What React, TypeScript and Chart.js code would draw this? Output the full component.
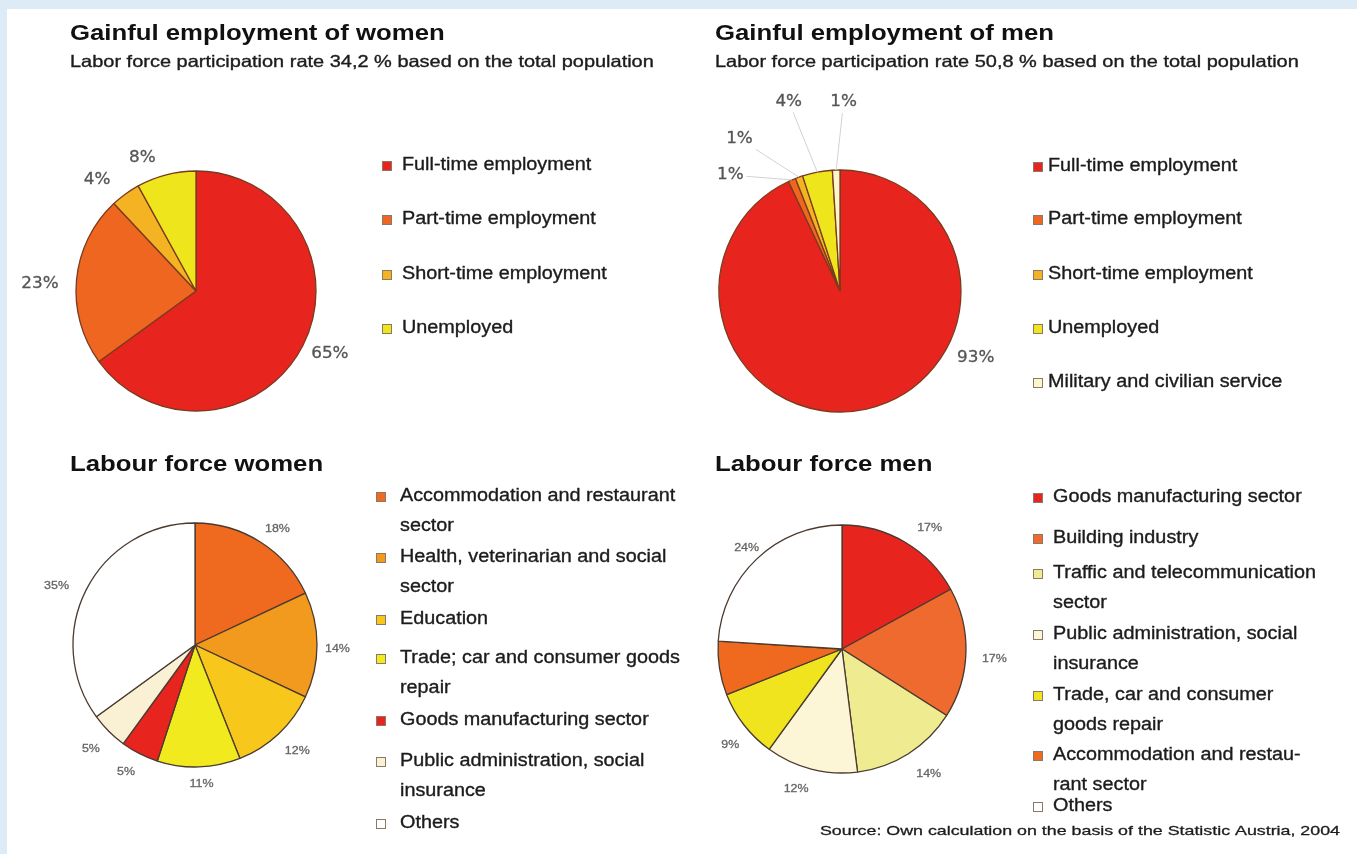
import React, { useEffect, useRef } from "react";
import { Chart, registerables } from "chart.js";

Chart.register(...registerables);

const PAGE_W = 1357;
const PAGE_H = 854;

// ---------------- Data ----------------
const womenEmploymentTitle = "Gainful employment of women";
const womenEmploymentSubtitle = "Labor force participation rate 34,2 % based on the total population";
const womenEmploymentCategories = [
  "Full-time employment",
  "Part-time employment",
  "Short-time employment",
  "Unemployed",
];
const womenEmploymentValues = [65, 23, 4, 8];

const menEmploymentTitle = "Gainful employment of men";
const menEmploymentSubtitle = "Labor force participation rate 50,8 % based on the total population";
const menEmploymentCategories = [
  "Full-time employment",
  "Part-time employment",
  "Short-time employment",
  "Unemployed",
  "Military and civilian service",
];
const menEmploymentValues = [93, 1, 1, 4, 1];

const womenLabourTitle = "Labour force women";
const womenLabourCategories = [
  "Accommodation and restaurant\nsector",
  "Health, veterinarian and social\nsector",
  "Education",
  "Trade; car and consumer goods\nrepair",
  "Goods manufacturing sector",
  "Public administration, social\ninsurance",
  "Others",
];
const womenLabourValues = [18, 14, 12, 11, 5, 5, 35];

const menLabourTitle = "Labour force men";
const menLabourCategories = [
  "Goods manufacturing sector",
  "Building industry",
  "Traffic and telecommunication\nsector",
  "Public administration, social\ninsurance",
  "Trade, car and consumer\ngoods repair",
  "Accommodation and restau-\nrant sector",
  "Others",
];
const menLabourValues = [17, 17, 14, 12, 9, 7, 24];

const sourceNote = "Source: Own calculation on the basis of the Statistic Austria, 2004";

// ---------------- Styles ----------------
const RED = "#e8241f";
const ORANGE = "#ef6620";
const GOLD = "#f3b322";
const YELLOW = "#eee51d";
const CREAM = "#fbf6cc";

const womenEmploymentColors = [RED, ORANGE, GOLD, YELLOW];
const menEmploymentColors = [RED, ORANGE, GOLD, YELLOW, CREAM];
const womenLabourColors = ["#ef6a1f", "#f29a1e", "#f8c71c", "#f1ea1e", RED, "#faf0d4", "#ffffff"];
const menLabourColors = [RED, "#ef6a2e", "#efeb90", "#fcf6d6", "#efe41e", "#ef6a1f", "#ffffff"];

const SANS = '"Liberation Sans", Arial, sans-serif';
const DEJAVU = '"DejaVu Sans", sans-serif';

type TextSpec = {
  text: string;
  x: number;
  y: number;
  font: string;
  sx: number;
  color: string;
  align?: "left" | "center" | "right";
  stroke?: number;
};

type Panel = {
  categories: string[];
  values: number[];
  colors: string[];
  cx: number;
  cy: number;
  r: number;
  borderColor: string;
  borderWidth: number;
  texts: TextSpec[];
  legend: {
    markerX: number;
    textX: number;
    itemY: number[];
    lineH: number;
    font: string;
    sx: number;
    size: number;
  };
  label: { font: string; sx: number; color: string; gap: number; h: number };
  labelNudge?: [number, number][];
  labelHidden?: boolean[];
  leader?: boolean[];
};

function drawText(
  ctx: CanvasRenderingContext2D,
  text: string,
  x: number,
  y: number,
  font: string,
  color: string,
  align: "left" | "center" | "right",
  sx: number,
  baseline: CanvasTextBaseline = "alphabetic",
  stroke = 0
) {
  ctx.save();
  ctx.font = font;
  ctx.fillStyle = color;
  ctx.textBaseline = baseline;
  ctx.textAlign = "left";
  const w = ctx.measureText(text).width * sx;
  const x0 = align === "left" ? x : align === "center" ? x - w / 2 : x - w;
  ctx.translate(x0, y);
  ctx.scale(sx, 1);
  ctx.fillText(text, 0, 0);
  if (stroke > 0) {
    ctx.strokeStyle = color;
    ctx.lineWidth = stroke;
    ctx.lineJoin = "round";
    ctx.strokeText(text, 0, 0);
  }
  ctx.restore();
}

function makeDecor(p: Panel) {
  return {
    id: "decor",
    afterDatasetsDraw(chart: any) {
      const ctx: CanvasRenderingContext2D = chart.ctx;
      // headings
      p.texts.forEach((t) =>
        drawText(ctx, t.text, t.x, t.y, t.font, t.color, t.align || "left", t.sx, "alphabetic", t.stroke || 0)
      );

      // slice labels
      const meta = chart.getDatasetMeta(0);
      meta.data.forEach((arc: any, i: number) => {
        if (p.labelHidden && p.labelHidden[i]) return;
        const { x, y, startAngle, endAngle, outerRadius } = arc.getProps(
          ["x", "y", "startAngle", "endAngle", "outerRadius"],
          true
        );
        const a = (startAngle + endAngle) / 2;
        const text = `${p.values[i]}%`;
        ctx.save();
        ctx.font = p.label.font;
        const w = ctx.measureText(text).width * p.label.sx;
        ctx.restore();
        const h = p.label.h;
        const R = outerRadius + p.label.gap;
        let lx = x + Math.cos(a) * R + (Math.cos(a) * w) / 2;
        let ly = y + Math.sin(a) * R + (Math.sin(a) * h) / 2;
        const n = p.labelNudge && p.labelNudge[i];
        if (n) {
          lx += n[0];
          ly += n[1];
        }
        if (p.leader && p.leader[i]) {
          const ax = x + Math.cos(a) * outerRadius;
          const ay = y + Math.sin(a) * outerRadius;
          const vx = ax - lx;
          const vy = ay - ly;
          const t = Math.min(
            Math.abs(vx) > 0.01 ? (w / 2 + 3) / Math.abs(vx) : 99,
            Math.abs(vy) > 0.01 ? (h / 2 + 4) / Math.abs(vy) : 99
          );
          ctx.save();
          ctx.strokeStyle = "#d2d2d2";
          ctx.lineWidth = 1;
          ctx.beginPath();
          ctx.moveTo(ax, ay);
          ctx.lineTo(lx + vx * t, ly + vy * t);
          ctx.stroke();
          ctx.restore();
        }
        drawText(ctx, text, lx, ly, p.label.font, p.label.color, "center", p.label.sx, "middle", 0.3);
      });

      // legend
      const L = p.legend;
      p.categories.forEach((cat, i) => {
        const lines = cat.split("\n");
        const y0 = L.itemY[i];
        ctx.save();
        ctx.fillStyle = p.colors[i];
        ctx.fillRect(L.markerX, y0 - L.size / 2 + 1, L.size, L.size);
        ctx.strokeStyle = "#8a7868";
        ctx.lineWidth = 1;
        ctx.strokeRect(L.markerX + 0.5, y0 - L.size / 2 + 1.5, L.size - 1, L.size - 1);
        ctx.restore();
        lines.forEach((ln, j) =>
          drawText(ctx, ln, L.textX, y0 + j * L.lineH, L.font, "#1c1c1c", "left", L.sx, "middle", 0.35)
        );
      });
    },
  };
}

const TITLE_FONT = `bold 22px ${SANS}`;
const SUB_FONT = `16.5px ${SANS}`;
const LEGEND_FONT = `18px ${SANS}`;
const LEGEND_SX = 1.1;

const panels: Panel[] = [
  {
    categories: womenEmploymentCategories,
    values: womenEmploymentValues,
    colors: womenEmploymentColors,
    cx: 196,
    cy: 291,
    r: 120,
    borderColor: "#7a3a1e",
    borderWidth: 1.3,
    texts: [
      { text: womenEmploymentTitle, x: 70, y: 40, font: TITLE_FONT, sx: 1.17, color: "#111" },
      { text: womenEmploymentSubtitle, x: 70, y: 67, font: SUB_FONT, sx: 1.21, color: "#1c1c1c", stroke: 0.35 },
    ],
    legend: { markerX: 382, textX: 402, itemY: [165, 219, 274, 328], lineH: 0, font: LEGEND_FONT, sx: LEGEND_SX, size: 10 },
    label: { font: `16px ${DEJAVU}`, sx: 1.05, color: "#555", gap: 6, h: 14 },
    labelNudge: [
      [5, 2],
      [-12, 5],
      [-17, -4],
      [-19, -4],
    ],
  },
  {
    categories: menEmploymentCategories,
    values: menEmploymentValues,
    colors: menEmploymentColors,
    cx: 840,
    cy: 291,
    r: 121,
    borderColor: "#7a3a1e",
    borderWidth: 1.3,
    texts: [
      { text: menEmploymentTitle, x: 715, y: 40, font: TITLE_FONT, sx: 1.17, color: "#111" },
      { text: menEmploymentSubtitle, x: 715, y: 67, font: SUB_FONT, sx: 1.21, color: "#1c1c1c", stroke: 0.35 },
    ],
    legend: { markerX: 1033, textX: 1048, itemY: [166, 219, 274, 328, 382], lineH: 0, font: LEGEND_FONT, sx: LEGEND_SX, size: 10 },
    label: { font: `16px ${DEJAVU}`, sx: 1.05, color: "#555", gap: 6, h: 14 },
    labelNudge: [
      [104, -64],
      [-54, 7],
      [-53, -26],
      [-25, -58],
      [8, -55],
    ],
    leader: [false, true, true, true, true],
  },
  {
    categories: womenLabourCategories,
    values: womenLabourValues,
    colors: womenLabourColors,
    cx: 195,
    cy: 645,
    r: 122,
    borderColor: "#4a3a30",
    borderWidth: 1.3,
    texts: [{ text: womenLabourTitle, x: 70, y: 471, font: TITLE_FONT, sx: 1.17, color: "#111" }],
    legend: {
      markerX: 376,
      textX: 400,
      itemY: [496, 557, 619, 658, 720, 761, 823],
      lineH: 30,
      font: LEGEND_FONT,
      sx: LEGEND_SX,
      size: 10,
    },
    label: { font: `11px ${SANS}`, sx: 1.13, color: "#666", gap: 12, h: 10 },
    labelNudge: [
      [4, 1],
      [-4, 4],
      [2, 5],
      [2, 0],
      [-4, 3],
      [-3, 6],
      [-8, 4],
    ],
  },
  {
    categories: menLabourCategories,
    values: menLabourValues,
    colors: menLabourColors,
    cx: 842,
    cy: 649,
    r: 124,
    borderColor: "#4a3a30",
    borderWidth: 1.3,
    texts: [
      { text: menLabourTitle, x: 715, y: 471, font: TITLE_FONT, sx: 1.17, color: "#111" },
      { text: sourceNote, x: 1340, y: 835, font: `13.5px ${SANS}`, sx: 1.32, color: "#1c1c1c", align: "right", stroke: 0.3 },
    ],
    legend: {
      markerX: 1033,
      textX: 1053,
      itemY: [497, 538, 573, 634, 695, 755, 806],
      lineH: 30,
      font: LEGEND_FONT,
      sx: LEGEND_SX,
      size: 10,
    },
    label: { font: `11px ${SANS}`, sx: 1.13, color: "#666", gap: 16, h: 10 },
    labelNudge: [
      [10, 4],
      [0, 5],
      [5, 3],
      [-8, 0],
      [6, 7],
      [0, 0],
      [9, 5],
    ],
    labelHidden: [false, false, false, false, false, true, false],
  },
];

function PieCanvas({ panel }: { panel: Panel }) {
  const ref = useRef<HTMLCanvasElement | null>(null);
  useEffect(() => {
    const canvas = ref.current;
    if (!canvas) return;
    const p = panel;
    const half = p.r + 6;
    const chart = new Chart(canvas, {
      type: "pie",
      data: {
        labels: p.categories.map((c) => c.replace("\n", " ")),
        datasets: [
          {
            data: p.values,
            backgroundColor: p.colors,
            borderColor: p.borderColor,
            borderWidth: p.borderWidth,
          },
        ],
      },
      options: {
        animation: false,
        responsive: false,
        maintainAspectRatio: false,
        events: [],
        radius: p.r,
        layout: {
          padding: {
            left: p.cx - half,
            right: PAGE_W - p.cx - half,
            top: p.cy - half,
            bottom: PAGE_H - p.cy - half,
          },
        },
        plugins: {
          legend: { display: false },
          tooltip: { enabled: false },
          title: { display: false },
        },
      } as any,
      plugins: [makeDecor(p)],
    });
    return () => chart.destroy();
  }, [panel]);
  return (
    <canvas
      ref={ref}
      width={PAGE_W}
      height={PAGE_H}
      style={{ position: "absolute", left: 0, top: 0, width: PAGE_W, height: PAGE_H }}
    />
  );
}

export default function App() {
  return (
    <div
      style={{
        position: "fixed",
        left: 0,
        top: 0,
        width: PAGE_W,
        height: PAGE_H,
        background: "#dcebf6",
        overflow: "hidden",
      }}
    >
      <div style={{ position: "absolute", left: 7, top: 9, right: 0, bottom: 0, background: "#ffffff" }} />
      {panels.map((p, i) => (
        <PieCanvas key={i} panel={p} />
      ))}
    </div>
  );
}
